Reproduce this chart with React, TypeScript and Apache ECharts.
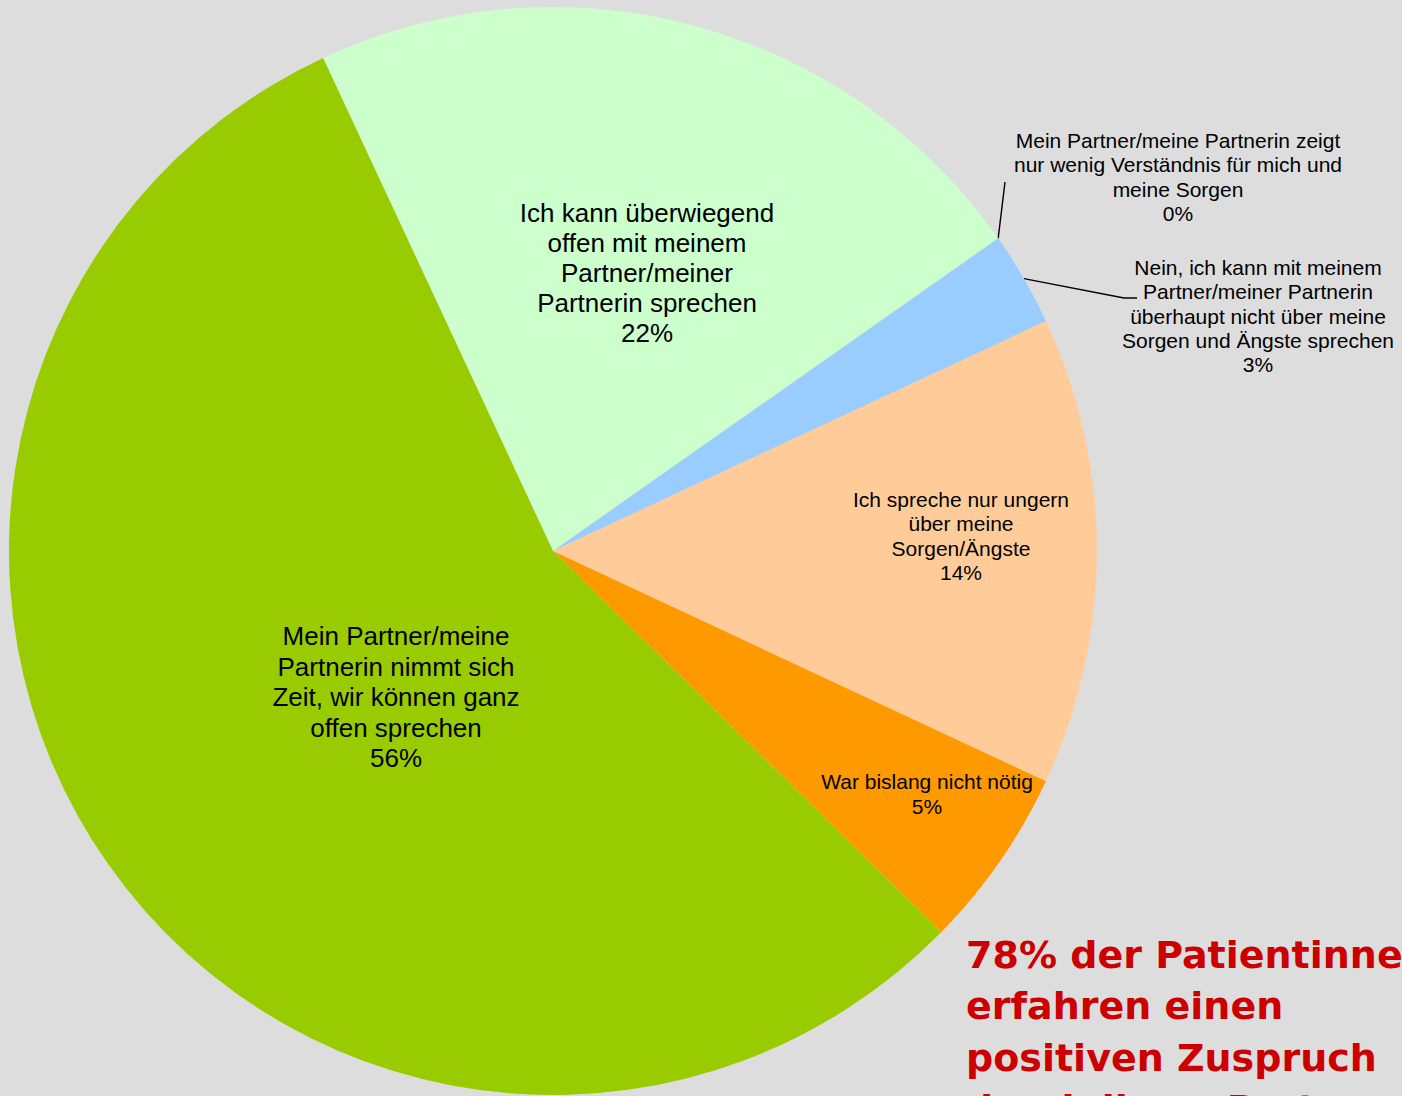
import React, { useEffect, useRef } from "react";
import * as echarts from "echarts";

// ---- data ----
const categories = [
  "Ich kann überwiegend\noffen mit meinem\nPartner/meiner\nPartnerin sprechen",
  "Mein Partner/meine Partnerin zeigt\nnur wenig Verständnis für mich und\nmeine Sorgen",
  "Nein, ich kann mit meinem\nPartner/meiner Partnerin\nüberhaupt nicht über meine\nSorgen und Ängste sprechen",
  "Ich spreche nur ungern\nüber meine\nSorgen/Ängste",
  "War bislang nicht nötig",
  "Mein Partner/meine\nPartnerin nimmt sich\nZeit, wir können ganz\noffen sprechen",
];
const values = [22.2, 0, 2.8, 13.9, 5.4, 55.7];
const titleLines = [
  "78% der Patientinnen",
  "erfahren einen",
  "positiven Zuspruch",
  "durch ihren Partner",
];

// ---- styles / layout ----
const colors = ["#CCFFCC", "#FFFFFF", "#99CCFF", "#FFCC99", "#FF9900", "#99CC00"];
const CX = 553;
const CY = 551;
const R = 544;
// label block centres relative to pie centre
const labelOffsets: [number, number][] = [
  [94, -278],
  [625, -374],
  [705, -235],
  [408, -15],
  [374, 243],
  [-157, 146],
];
const labelFont = [26, 21, 21, 21, 21, 26];
const labelLH = [30.2, 24.3, 24.3, 24.3, 24.3, 30.5];
const outside = [false, true, true, false, false, false];

export default function App() {
  const ref = useRef<HTMLDivElement>(null);
  useEffect(() => {
    document.body.style.margin = "0";
    const chart = echarts.init(ref.current!, null, { renderer: "svg" });

    const total = values.reduce((a, b) => a + b, 0);
    const startDeg = -25; // clockwise from 12 o'clock
    const edgePoint = (frac: number): [number, number] => {
      const a = ((startDeg + frac * 360) * Math.PI) / 180;
      return [CX + R * Math.sin(a), CY - R * Math.cos(a)];
    };
    const cum: number[] = [];
    let acc = 0;
    values.forEach((v) => {
      cum.push(acc);
      acc += v;
    });

    const leaderLines: Record<number, [number, number][]> = {
      1: (() => {
        const p = edgePoint((cum[1] + values[1] / 2) / total);
        const e: [number, number] = [CX + 452, CY - 369];
        return [p, [(p[0] + e[0]) / 2, (p[1] + e[1]) / 2], e];
      })(),
      2: (() => {
        const p = edgePoint((cum[2] + values[2] / 2) / total);
        return [p, [CX + 571, CY - 253], [CX + 584, CY - 253]];
      })(),
    };

    chart.setOption({
      animation: false,
      backgroundColor: "#DDDDDD",
      graphic: [
        {
          type: "text",
          x: 966,
          y: 929,
          style: {
            text: titleLines.join("\n"),
            font: 'bold 38px "DejaVu Sans"',
            fill: "#CC0000",
            lineHeight: 51.5,
            verticalAlign: "top",
            align: "left",
          },
        },
      ],
      series: [
        {
          type: "pie",
          center: [CX, CY],
          radius: R,
          startAngle: 90 - startDeg,
          clockwise: true,
          avoidLabelOverlap: false,
          percentPrecision: 0,
          silent: true,
          itemStyle: { borderWidth: 0 },
          label: {
            formatter: "{b}\n{d}%",
            color: "#000",
            fontFamily: '"Liberation Sans", Arial, sans-serif',
            rotate: 0,
          },
          labelLine: {
            lineStyle: { color: "#000", width: 1.4 },
            smooth: false,
          },
          labelLayout: (params: any) => {
            const i = params.dataIndex;
            const res: any = {
              x: CX + labelOffsets[i][0],
              y: CY + labelOffsets[i][1],
              align: "center",
              verticalAlign: "middle",
            };
            if (leaderLines[i]) res.labelLinePoints = leaderLines[i];
            return res;
          },
          data: categories.map((name, i) => ({
            name,
            value: values[i],
            itemStyle: { color: colors[i] },
            label: {
              position: outside[i] ? "outside" : "inside",
              fontSize: labelFont[i],
              lineHeight: labelLH[i],
            },
            labelLine: { show: outside[i] },
          })),
        },
      ],
    });
    return () => chart.dispose();
  }, []);
  return <div ref={ref} style={{ width: 1402, height: 1096 }} />;
}
